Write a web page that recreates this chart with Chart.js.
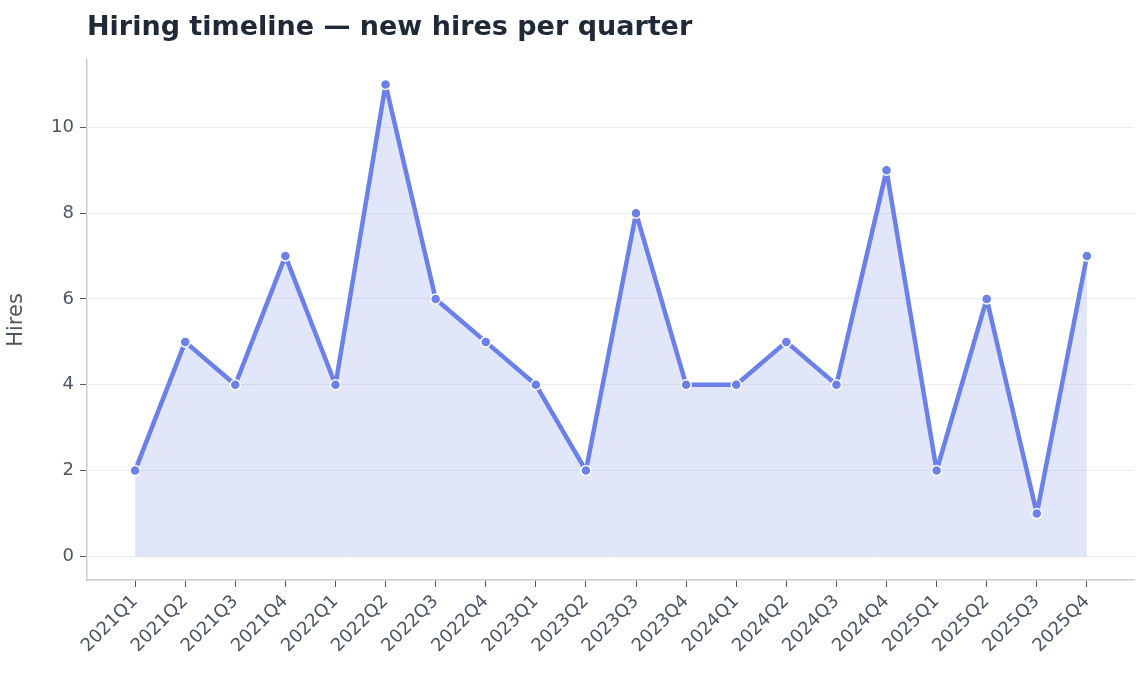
<!DOCTYPE html>
<html><head><meta charset="utf-8">
<script src="https://cdn.jsdelivr.net/npm/chart.js@4/dist/chart.umd.min.js"></script>
<style>html,body{margin:0;padding:0;background:#fff}#c{display:block}</style>
</head><body>
<canvas id="c" width="1148" height="683"></canvas>
<script>
const categories=["2021Q1","2021Q2","2021Q3","2021Q4","2022Q1","2022Q2","2022Q3","2022Q4","2023Q1","2023Q2","2023Q3","2023Q4","2024Q1","2024Q2","2024Q3","2024Q4","2025Q1","2025Q2","2025Q3","2025Q4"];
const hires=[2,5,4,7,4,11,6,5,4,2,8,4,4,5,4,9,2,6,1,7];
const yTicks=[0,2,4,6,8,10];
const titleText='Hiring timeline — new hires per quarter';
const pts=hires.map((v,i)=>({x:i,y:v}));
const titlePlugin={id:'ttl',afterDraw(ch){const c=ch.ctx;c.save();c.font='bold 27px "DejaVu Sans"';c.fillStyle='#1f2937';c.textBaseline='middle';c.textAlign='left';c.fillText(titleText,ch.chartArea.left,28);c.restore();}};
new Chart(document.getElementById('c'),{
type:'line',
data:{datasets:[{data:pts,borderColor:'#6b80e8',borderWidth:4.5,borderJoinStyle:'round',backgroundColor:'rgba(107,128,232,0.2)',fill:'origin',
pointRadius:5,pointBackgroundColor:'#6b80e8',pointBorderColor:'#fff',pointBorderWidth:1.5,tension:0}]},
plugins:[titlePlugin],
options:{responsive:false,animation:false,
layout:{padding:{left:0,right:14,top:60,bottom:0}},
plugins:{legend:{display:false},tooltip:{enabled:false},title:{display:false}},
scales:{
x:{type:'linear',min:-0.96,max:19.94,afterBuildTicks:a=>{a.ticks=categories.map((c,i)=>({value:i}));},
afterFit:a=>{a.height=103;},
ticks:{callback:v=>categories[v],maxRotation:45,minRotation:45,color:'#4b5563',font:{family:'DejaVu Sans',size:18},autoSkip:false,padding:4},
grid:{display:true,drawOnChartArea:false,drawTicks:true,tickLength:7,tickColor:'#555'},border:{color:'#ccc',width:1.5}},
y:{min:-0.55,max:11.57,afterBuildTicks:a=>{a.ticks=yTicks.map(v=>({value:v}));},
afterFit:a=>{a.width=87;},
title:{display:true,text:'Hires',color:'#4b5563',font:{family:'DejaVu Sans',size:21},padding:{bottom:6}},
ticks:{color:'#4b5563',font:{family:'DejaVu Sans',size:18},padding:6},
grid:{color:'#eceef2',tickLength:7,tickColor:'#555'},border:{color:'#ccc',width:1.5,dash:[]}}
}}});
</script>
</body></html>
